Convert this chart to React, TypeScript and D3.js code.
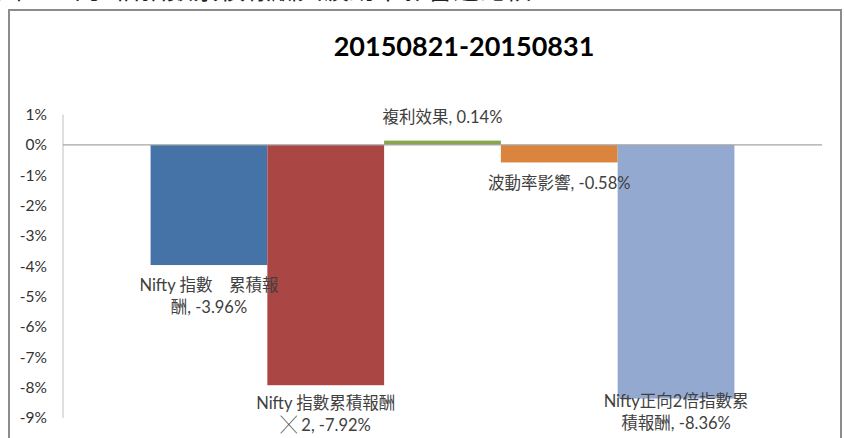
import { useEffect, useRef } from 'react'
import * as d3 from 'd3'

const seriesNames = ['Nifty 指數累積報酬', 'Nifty 指數累積報酬×2', '複利效果', '波動率影響', 'Nifty正向2倍指數累積報酬']
const seriesValues = [-3.96, -7.92, 0.14, -0.58, -8.36]
const seriesColors = ['#4572A7', '#AA4643', '#89A54E', '#DB843D', '#94A9D0']
const labelLines = [
  ['Nifty 指數　累積報', '酬, -3.96%'],
  ['Nifty 指數累積報酬', '╳ 2, -7.92%'],
  ['複利效果, 0.14%'],
  ['波動率影響, -0.58%'],
  ['Nifty正向2倍指數累', '積報酬, -8.36%'],
]
// label anchor: offset in px from bar end (first line centre)
const labelOffsets = [20, 18, -23, 21, 3]
const yTicks = [1, 0, -1, -2, -3, -4, -5, -6, -7, -8, -9]
const chartTitle = '20150821-20150831'
const pageHeading = '圖：正向2倍指數累積報酬與波動率影響之比較'

const FONT = "Lato, 'Noto Sans CJK TC', sans-serif"

function App() {
  const svgRef = useRef(null)

  useEffect(() => {
    if (!svgRef.current) return
    const svg = d3.select(svgRef.current)
    svg.selectAll('*').remove()

    const width = 844
    const height = 438
    const plot = { left: 63, right: 822, top: 114.5, bottom: 418 }

    svg.attr('width', width).attr('height', height)

    // clipped heading from the page above the chart
    svg
      .append('text')
      .attr('x', -4)
      .attr('y', -1)
      .attr('font-family', FONT)
      .attr('font-size', 26)
      .attr('fill', '#222')
      .text(pageHeading)

    // chart frame
    svg
      .append('rect')
      .attr('x', 9)
      .attr('y', 10)
      .attr('width', 832)
      .attr('height', 440)
      .attr('fill', 'white')
      .attr('stroke', '#8c8c8c')
      .attr('stroke-width', 2)

    svg
      .append('text')
      .attr('x', 464)
      .attr('y', 56)
      .attr('text-anchor', 'middle')
      .attr('font-family', FONT)
      .attr('font-weight', 'bold')
      .attr('font-size', 27)
      .attr('fill', '#000')
      .text(chartTitle)

    const yScale = d3.scaleLinear().domain([-9, 1]).range([plot.bottom, plot.top])
    const xScale = d3
      .scaleBand()
      .domain(seriesNames)
      .range([plot.left, plot.right])
      .paddingInner(0)
      .paddingOuter(0.75)

    // y axis
    svg
      .append('line')
      .attr('x1', plot.left)
      .attr('x2', plot.left)
      .attr('y1', plot.top)
      .attr('y2', plot.bottom)
      .attr('stroke', '#c0c0c0')
      .attr('stroke-width', 1)

    svg
      .selectAll('.ytick')
      .data(yTicks)
      .enter()
      .append('text')
      .attr('class', 'ytick')
      .attr('x', 47)
      .attr('y', (d) => yScale(d))
      .attr('dy', '0.35em')
      .attr('text-anchor', 'end')
      .attr('font-family', FONT)
      .attr('font-size', 15.5)
      .attr('fill', '#333')
      .text((d) => `${d}%`)

    // bars
    svg
      .selectAll('.bar')
      .data(seriesValues)
      .enter()
      .append('rect')
      .attr('class', 'bar')
      .attr('x', (d, i) => xScale(seriesNames[i]))
      .attr('y', (d) => yScale(Math.max(0, d)))
      .attr('width', xScale.bandwidth())
      .attr('height', (d) => Math.abs(yScale(d) - yScale(0)))
      .attr('fill', (d, i) => seriesColors[i])

    // zero line
    svg
      .append('line')
      .attr('x1', plot.left)
      .attr('x2', plot.right)
      .attr('y1', yScale(0))
      .attr('y2', yScale(0))
      .attr('stroke', '#a6a6a6')
      .attr('stroke-width', 1.2)

    // data labels
    seriesValues.forEach((v, i) => {
      const cx = xScale(seriesNames[i]) + xScale.bandwidth() / 2
      const y0 = yScale(v) + labelOffsets[i]
      const t = svg
        .append('text')
        .attr('text-anchor', 'middle')
        .attr('font-family', FONT)
        .attr('font-size', 16.5)
        .attr('fill', '#404040')
      labelLines[i].forEach((line, j) => {
        t.append('tspan')
          .attr('x', cx)
          .attr('y', y0 + j * 22)
          .attr('dy', '0.35em')
          .text(line)
      })
    })
  }, [])

  return (
    <div style={{ position: 'absolute', left: 0, top: 0, width: 844, height: 438, overflow: 'hidden', background: 'white' }}>
      <svg ref={svgRef}></svg>
    </div>
  )
}

export default App
